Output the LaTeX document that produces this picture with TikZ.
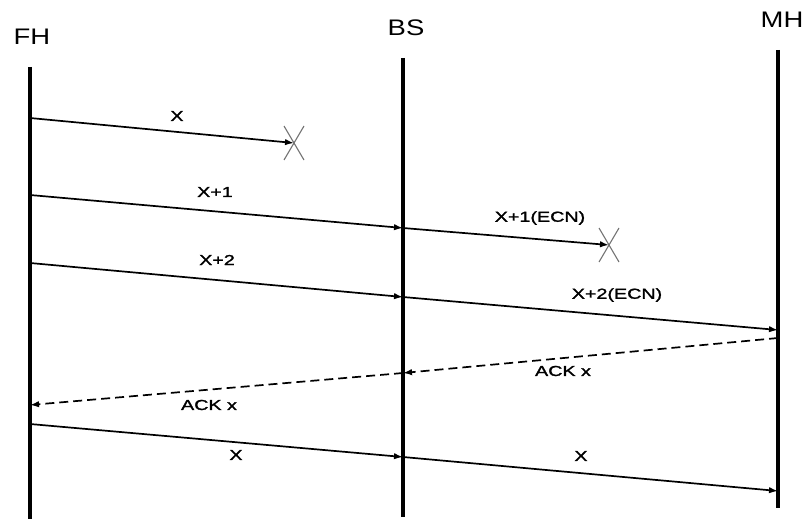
\documentclass[tikz,border=0pt]{standalone}
\usepackage{fontspec}
\setmainfont{Liberation Sans}
\newfontfamily\headfont[FakeStretch=1.22]{Liberation Sans}
\newfontfamily\labfont[FakeStretch=1.36,FakeBold=1.6]{Liberation Sans}
\usetikzlibrary{arrows.meta}
\begin{document}
\begin{tikzpicture}[x=1pt,y=-1pt,
  life/.style={line width=3.2pt},
  msg/.style={line width=1.7pt,-{Latex[length=9pt,width=6.5pt]}},
  ack/.style={msg,dash pattern=on 9pt off 5pt},
  head/.style={font=\headfont\fontsize{22.5}{24}\selectfont,inner sep=0pt},
  lab/.style={font=\labfont\fontsize{14.5}{16}\selectfont,inner sep=0pt},
  lost/.style={line width=1.1pt,draw=black!55}]
\useasboundingbox (0,0) rectangle (806,519);
% lifelines
\coordinate (fhT) at (30,67);  \coordinate (fhB) at (30,519);
\coordinate (bsT) at (403,58); \coordinate (bsB) at (403,517);
\coordinate (mhT) at (778,50); \coordinate (mhB) at (778,508);
\draw[life] (fhT) -- (fhB);
\draw[life] (bsT) -- (bsB);
\draw[life] (mhT) -- (mhB);
\node[head] (FH) at (32,37) {FH};
\node[head] (BS) at (406,28) {BS};
\node[head] (MH) at (782,20) {MH};
% message points
\coordinate (f1) at (30,118);  \coordinate (x1) at (294,143);
\coordinate (f2) at (30,195);  \coordinate (b2) at (403,228);
\coordinate (x2) at (609,245);
\coordinate (f3) at (30,263);  \coordinate (b3) at (403,297);
\coordinate (m3) at (778,330);
\coordinate (m4) at (778,338); \coordinate (b4) at (403,373);
\coordinate (f4) at (30,405);
\coordinate (f5) at (30,424);  \coordinate (b5) at (403,457);
\coordinate (m5) at (778,491);
% messages
\draw[msg] (f1) -- (x1);
\draw[msg] (f2) -- (b2);
\draw[msg] (b2) -- (x2);
\draw[msg] (f3) -- (b3);
\draw[msg] (b3) -- (m3);
\draw[ack] (m4) -- (b4);
\draw[ack] (b4) -- (f4);
\draw[msg] (f5) -- (b5);
\draw[msg] (b5) -- (m5);
% lost marks
\draw[lost] ([shift={(-10,-17)}]x1) -- ([shift={(10,17)}]x1);
\draw[lost] ([shift={(10,-17)}]x1) -- ([shift={(-10,17)}]x1);
\draw[lost] ([shift={(-10,-17)}]x2) -- ([shift={(10,17)}]x2);
\draw[lost] ([shift={(10,-17)}]x2) -- ([shift={(-10,17)}]x2);
% labels
\node[lab] (l1) at (177,116) {X};
\node[lab] (l2) at (215,192) {X+1};
\node[lab] (l3) at (540,218) {X+1(ECN)};
\node[lab] (l4) at (217,260) {X+2};
\node[lab] (l5) at (617,295) {X+2(ECN)};
\node[lab] (l6) at (563,371) {ACK x};
\node[lab] (l7) at (209,405) {ACK x};
\node[lab] (l8) at (236,455) {X};
\node[lab] (l9) at (581,456) {X};
\end{tikzpicture}
\end{document}
